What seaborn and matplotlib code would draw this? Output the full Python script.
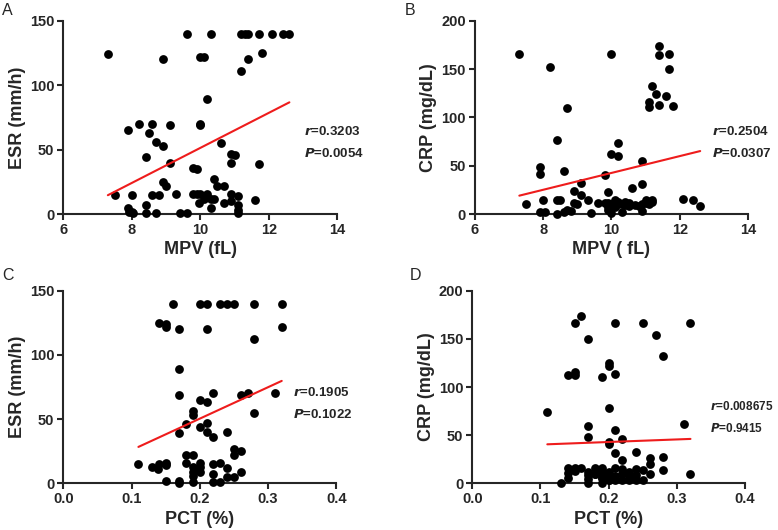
import numpy as np
import pandas as pd
import matplotlib
matplotlib.use("Agg")
import matplotlib.pyplot as plt
import seaborn as sns

# Panel A: MPV vs ESR
mpv_a = [7.3, 7.5, 7.9, 7.9, 7.93, 8.0, 8.0, 8.04, 8.2, 8.5, 8.6, 8.4, 8.4, 8.4, 8.7,
         8.6, 8.8, 8.7, 8.9, 8.9, 8.9, 9.0, 9.1, 9.1, 9.3, 9.4, 9.6, 9.6, 9.8, 9.9,
         9.8, 9.9, 9.95, 10.0, 10.0, 10.0, 10.1, 10.0, 10.1, 10.2, 10.2, 10.3, 10.3,
         10.3, 10.4, 10.4, 10.5, 10.6, 10.7, 10.7, 10.9, 10.9, 11.0, 10.9, 10.9,
         11.1, 11.1, 11.1, 11.1, 11.2, 11.2, 11.3, 11.4, 11.4, 11.7, 11.7, 11.8,
         11.6, 12.1, 12.4, 12.6]
esr_a = [124, 15, 65, 5, 2, 2, 15, 1, 70, 63, 70, 44, 7, 1, 56,
         15, 15, 1, 120, 53, 25, 22, 69, 40, 16, 1, 1, 140, 36, 35,
         16, 16, 9, 70, 69, 122, 122, 16, 12, 16, 89, 140, 12,
         5, 12, 27, 22, 55, 9, 22, 47, 40, 46, 16, 10,
         14, 7, 3, 1, 111, 140, 140, 140, 120, 140, 39, 125,
         11, 140, 140, 140]

# Panel B: MPV vs CRP (last values sit inside the dense low cluster)
mpv_b = [7.3, 7.5, 7.9, 7.9, 7.9, 8.0, 8.05, 8.2, 8.4, 8.4, 8.4, 8.5, 8.6, 8.6, 8.7,
         8.7, 8.8, 8.9, 8.9, 9.0, 9.1, 9.1, 9.3, 9.4, 9.6, 9.8, 9.8, 9.9, 9.9, 9.9,
         10.0, 10.0, 10.0, 10.0, 10.1, 10.2, 10.2, 10.2, 10.3, 10.3, 10.4, 10.5,
         10.6, 10.7, 10.9, 10.9, 10.9, 10.9, 11.0, 11.1, 11.1, 11.1, 11.2, 11.2,
         11.3, 11.4, 11.4, 11.4, 11.6, 11.7, 11.7, 11.8, 12.1, 12.4, 12.6,
         9.9, 10.0, 10.1, 10.2, 10.4, 10.5, 10.8, 11.0, 11.2]
crp_b = [166, 11, 49, 42, 2, 15, 2, 152, 77, 15, 0, 15, 45, 2, 110,
         4, 3, 24, 12, 11, 32, 20, 15, 1, 12, 41, 12, 23, 8, 4,
         62, 166, 1, 11, 15, 74, 60, 11, 2, 11, 13, 9,
         27, 10, 55, 31, 3, 11, 15, 11, 116, 111, 132, 15,
         124, 174, 165, 113, 122, 166, 150, 112, 16, 15, 9,
         12, 6, 8, 13, 10, 12, 9, 12, 13]

# Panel C: PCT vs ESR
pct_c = [0.11, 0.13, 0.138, 0.14, 0.14, 0.15, 0.15, 0.15, 0.15, 0.15, 0.16, 0.17,
         0.17, 0.17, 0.17, 0.17, 0.17, 0.18, 0.18, 0.18, 0.19, 0.19, 0.19, 0.19,
         0.19, 0.19, 0.19, 0.20, 0.20, 0.20, 0.20, 0.20, 0.20, 0.21, 0.21, 0.21,
         0.21, 0.21, 0.22, 0.22, 0.22, 0.22, 0.22, 0.23, 0.23, 0.23, 0.24, 0.24,
         0.24, 0.24, 0.25, 0.25, 0.25, 0.25, 0.26, 0.26, 0.26, 0.27, 0.28, 0.28,
         0.28, 0.31, 0.32, 0.32]
esr_c = [15, 13, 11, 15, 125, 124, 122, 16, 14, 2, 140, 120,
         89, 69, 39, 2, 0, 46, 22, 16, 22, 56, 53, 13,
         9, 6, 1, 140, 65, 44, 16, 13, 9, 140, 120, 63,
         47, 40, 70, 36, 15, 7, 1, 140, 16, 1, 140, 40,
         12, 5, 140, 27, 22, 5, 69, 25, 9, 70, 140, 112,
         55, 70, 140, 122]

# Panel D: PCT vs CRP (last values sit inside the dense low cluster)
pct_d = [0.11, 0.13, 0.14, 0.14, 0.14, 0.14, 0.15, 0.15, 0.15, 0.15, 0.16, 0.16,
         0.17, 0.17, 0.17, 0.17, 0.17, 0.17, 0.18, 0.18, 0.19, 0.19, 0.19, 0.19,
         0.19, 0.20, 0.20, 0.20, 0.20, 0.20, 0.20, 0.20, 0.21, 0.21, 0.21, 0.21,
         0.21, 0.22, 0.22, 0.22, 0.22, 0.23, 0.23, 0.24, 0.24, 0.24, 0.24, 0.25,
         0.25, 0.25, 0.26, 0.26, 0.26, 0.27, 0.28, 0.28, 0.28, 0.31, 0.32, 0.32,
         0.15, 0.17, 0.18, 0.19, 0.19, 0.20, 0.20, 0.21, 0.21, 0.22, 0.22, 0.23, 0.20]
crp_d = [74, 0, 5, 11, 16, 112, 116, 112, 166, 16, 174, 16,
         150, 60, 48, 9, 4, 0, 16, 10, 110, 16, 12, 5,
         0, 125, 122, 78, 43, 41, 12, 3, 166, 113, 55, 31,
         16, 46, 24, 10, 3, 9, 3, 32, 15, 9, 3, 166,
         14, 3, 26, 20, 10, 154, 132, 27, 14, 62, 166, 10,
         13, 12, 10, 6, 13, 6, 9, 3, 8, 15, 10, 12, 3]

stats_text = [("0.3203", "0.0054"), ("0.2504", "0.0307"),
              ("0.1905", "0.1022"), ("0.008675", "0.9415")]

sns.set_style("ticks")
plt.rcParams["font.family"] = ["Liberation Sans", "DejaVu Sans"]

fig = plt.figure(figsize=(7.78, 5.30), dpi=100)
axes_pos = [
    [0.0814, 0.5957, 0.3522, 0.3653],
    [0.6105, 0.5957, 0.3509, 0.3653],
    [0.0814, 0.0881, 0.3509, 0.3634],
    [0.6071, 0.0881, 0.3505, 0.3634],
]
panels = [
    (mpv_a, esr_a, "MPV (fL)", "ESR (mm/h)", (6, 14), (0, 150), [6, 8, 10, 12, 14], [0, 50, 100, 150], "A"),
    (mpv_b, crp_b, "MPV ( fL)", "CRP (mg/dL)", (6, 14), (0, 200), [6, 8, 10, 12, 14], [0, 50, 100, 150, 200], "B"),
    (pct_c, esr_c, "PCT (%)", "ESR (mm/h)", (0, 0.4), (0, 150), [0.0, 0.1, 0.2, 0.3, 0.4], [0, 50, 100, 150], "C"),
    (pct_d, crp_d, "PCT (%)", "CRP (mg/dL)", (0, 0.4), (0, 200), [0.0, 0.1, 0.2, 0.3, 0.4], [0, 50, 100, 150, 200], "D"),
]
text_xy = [(0.88, 0.41), (0.87, 0.41), (0.84, 0.455), (0.87, 0.38)]
text_size = [9.5, 9.5, 9.5, 8.5]
letter_xy = [(0.003, 0.995), (0.52, 0.995), (0.003, 0.495), (0.527, 0.495)]

for i, (xv, yv, xl, yl, xlim, ylim, xt, yt, letter) in enumerate(panels):
    ax = fig.add_axes(axes_pos[i])
    df = pd.DataFrame({"x": xv, "y": yv})
    sns.regplot(data=df, x="x", y="y", ax=ax, ci=None, truncate=True,
                scatter_kws={"s": 40, "color": "black", "alpha": 1, "linewidths": 0,
                             "clip_on": False, "zorder": 3},
                line_kws={"color": "#ee1c1c", "lw": 1.5, "zorder": 4})
    ax.set_xlim(*xlim)
    ax.set_ylim(*ylim)
    ax.set_xticks(xt)
    ax.set_yticks(yt)
    if xlim[1] < 1:
        ax.set_xticklabels([f"{t:.1f}" for t in xt])
    ax.set_xlabel(xl, fontsize=13, fontweight="bold", labelpad=3)
    ax.set_ylabel(yl, fontsize=13, fontweight="bold", labelpad=3)
    for lab in ax.get_xticklabels() + ax.get_yticklabels():
        lab.set_fontweight("bold")
        lab.set_fontsize(10.5)
    sns.despine(ax=ax)
    for s in ["left", "bottom"]:
        ax.spines[s].set_linewidth(1.5)
    ax.tick_params(width=1.5, length=4.5, pad=2)
    r, p = stats_text[i]
    tx, ty = text_xy[i]
    ax.text(tx, ty, r"$\mathbfit{r}$=" + r, transform=ax.transAxes,
            fontsize=text_size[i], fontweight="bold")
    ax.text(tx, ty - 0.115, r"$\mathbfit{P}$=" + p, transform=ax.transAxes,
            fontsize=text_size[i], fontweight="bold")
    fig.text(letter_xy[i][0], letter_xy[i][1], letter, fontsize=11.5, va="top", ha="left")

fig.savefig("out.png", dpi=100)
